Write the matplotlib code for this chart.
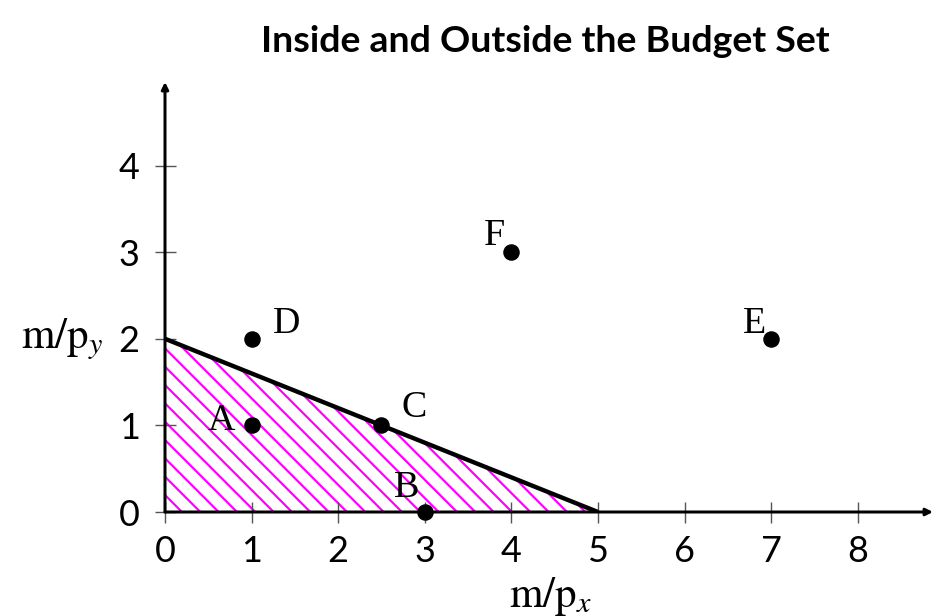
import matplotlib
matplotlib.use("Agg")
import matplotlib.pyplot as plt

DPI = 110
def pt(px):
    """convert a pixel size to points at the figure dpi"""
    return px * 72.0 / DPI

plt.rcParams['font.family'] = ['Lato', 'DejaVu Sans']
plt.rcParams['mathtext.fontset'] = 'stix'
plt.rcParams['hatch.linewidth'] = pt(2.2)
plt.rcParams['hatch.color'] = '#ff00ff'

# Data
point_labels = ['A', 'B', 'C', 'D', 'E', 'F']
point_x = [1, 3, 2.5, 1, 7, 4]
point_y = [1, 0, 1, 2, 2, 3]
label_offsets = [(-30, 5), (-18, 24), (33, 18), (35, 15), (-17, 15), (-17, 16)]
budget_x = [0, 5]
budget_y = [2, 0]
x_ticks = [0, 1, 2, 3, 4, 5, 6, 7, 8]
y_ticks = [0, 1, 2, 3, 4]
title = 'Inside and Outside the Budget Set'

fig = plt.figure(figsize=(934/DPI, 616/DPI), dpi=DPI)
ax = fig.add_axes([165/934, 104/616, 768/934, 430/616])
ax.set_xlim(0, 768/86.6)
ax.set_ylim(0, 430/86.6)

for s in ax.spines.values():
    s.set_visible(False)

# hatched budget set
ax.fill([0, budget_x[0], budget_x[1]], [0, budget_y[0], budget_y[1]],
        facecolor='none', edgecolor='#ff00ff', hatch='\\\\', linewidth=0)
ax.plot(budget_x, budget_y, color='black', lw=pt(4.4), solid_capstyle='butt', zorder=4)

# axes arrows
for end in [(1, 0), (0, 1)]:
    ax.annotate('', xy=end, xytext=(0, 0), xycoords='axes fraction',
                arrowprops=dict(arrowstyle='-|>', lw=pt(3.0), color='black',
                                mutation_scale=pt(14), shrinkA=0, shrinkB=0), zorder=5)

ax.set_xticks(x_ticks)
ax.set_yticks(y_ticks)
ax.tick_params(direction='inout', length=pt(21), width=pt(1.4), color='#555555',
               labelsize=pt(36))
ax.tick_params(axis='x', pad=pt(13))
ax.tick_params(axis='y', pad=pt(15))

ax.scatter(point_x, point_y, s=pt(15)**2, color='black', zorder=6, clip_on=False)
for lab, x, y, (dx, dy) in zip(point_labels, point_x, point_y, label_offsets):
    ax.annotate(lab, (x, y), xytext=(dx, dy), textcoords='offset pixels',
                ha='center', va='center', fontsize=pt(38), family='Liberation Serif')

ax.set_xlabel(r'$\mathrm{m}/\mathrm{p}_x$', fontsize=pt(43))
ax.set_ylabel(r'$\mathrm{m}/\mathrm{p}_y$', fontsize=pt(43), rotation=0)
ax.yaxis.set_label_coords(-(165 - 62) / 768, 2/(430/86.6))
ax.xaxis.set_label_coords(386/768, -(596 - 512) / 430)
ax.yaxis.label.set_va('center')
ax.xaxis.label.set_va('center')

fig.text(545/934, 1 - 42/616, title, fontsize=pt(37.5), fontweight='bold',
         ha='center', va='center')

fig.savefig('out.png', dpi=DPI)
